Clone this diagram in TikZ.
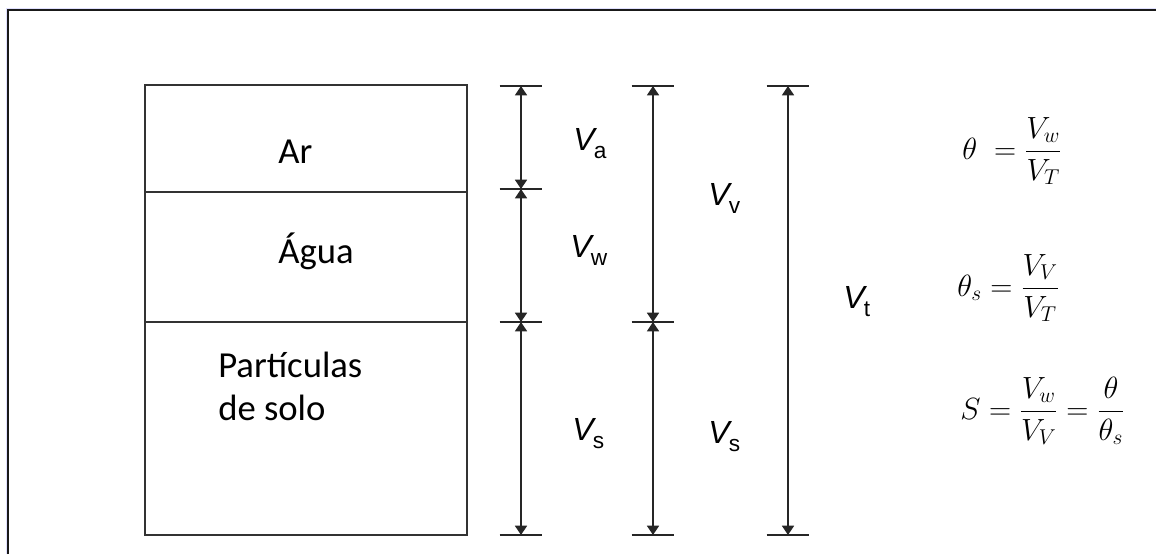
\RequirePackage{fix-cm}
\documentclass[tikz,border=0pt]{standalone}
\usepackage{amsmath}
\usepackage{fontspec}
\usetikzlibrary{arrows.meta}
\newfontfamily\phasefont{Carlito}
\newfontfamily\volfont{Liberation Sans}
% volume symbol: slanted V with an upright subscript
\newcommand\volsym[1]{{\itshape V}\kern-0.5pt\raisebox{-6pt}{\fontsize{17}{20}\selectfont #1}}

\begin{document}
\begin{tikzpicture}[x=0.75pt,y=-0.75pt,
  frame/.style={line width=1.6pt, black!90},
  layer/.style={line width=1.3pt, black!80},
  tickbar/.style={line width=1.3pt, black!85},
  dim/.style={line width=1.3pt, black!85,
    {Triangle[length=7pt,width=9pt]}-{Triangle[length=7pt,width=9pt]}},
  phase/.style={font=\phasefont\fontsize{27.5}{32}\selectfont, anchor=base west, inner sep=0pt},
  vol/.style={font=\volfont\fontsize{24}{28}\selectfont, anchor=base west, inner sep=0pt},
  eq/.style={font=\fontsize{23}{27}\selectfont, anchor=base west, inner sep=0pt}]
\useasboundingbox (0,0) rectangle (1156,554);

% outer frame (top and left edges)
\draw[line width=0.6pt, blue!12] (6,554) -- (6,8) -- (1156,8);
\draw[frame] (8,554) -- (8,10) -- (1156,10);

% soil column with its three phases
\coordinate (boxTL) at (145,85);
\coordinate (boxBR) at (467,535);
\draw[layer] (boxTL) rectangle (boxBR);
\coordinate (d1L) at (145,192); \coordinate (d1R) at (467,192);
\coordinate (d2L) at (145,322); \coordinate (d2R) at (467,322);
\draw[layer] (d1L) -- (d1R);
\draw[layer] (d2L) -- (d2R);

\node[phase] (ar) at (278,163) {Ar};
\node[phase] (agua) at (278,263) {Água};
\node[phase, align=left] (part) at (218,420) {Partículas\\de solo};

% dimension columns
\coordinate (a0) at (521,86);  \coordinate (a1) at (521,189);
\coordinate (a2) at (521,322); \coordinate (a3) at (521,535);
\coordinate (b0) at (653,86);  \coordinate (b2) at (653,322);
\coordinate (b3) at (653,535);
\coordinate (c0) at (788,86);  \coordinate (c3) at (788,535);

\foreach \p in {a0,a1,a2,a3,b0,b2,b3,c0,c3}
  \draw[tickbar] ([xshift=-16]\p) -- ([xshift=16]\p);

\draw[dim] (a0) -- (a1);
\draw[dim] (a1) -- (a2);
\draw[dim] (a2) -- (a3);
\draw[dim] (b0) -- (b2);
\draw[dim] (b2) -- (b3);
\draw[dim] (c0) -- (c3);

\node[vol] (va) at (573,150) {\volsym{a}};
\node[vol] (vw) at (570,257) {\volsym{w}};
\node[vol] (vs1) at (572,440) {\volsym{s}};
\node[vol] (vv) at (708,205) {\volsym{v}};
\node[vol] (vs2) at (708,443) {\volsym{s}};
\node[vol] (vt) at (843,308) {\volsym{t}};

% definitions
\node[eq] (eqtheta) at (962,159) {$\theta\;=\dfrac{V_w}{V_T}$};
\node[eq] (eqthetas) at (957,296) {$\theta_s=\dfrac{V_V}{V_T}$};
\node[eq] (eqS) at (960,419) {$S=\dfrac{V_w}{V_V}=\dfrac{\theta}{\theta_s}$};
\end{tikzpicture}
\end{document}
